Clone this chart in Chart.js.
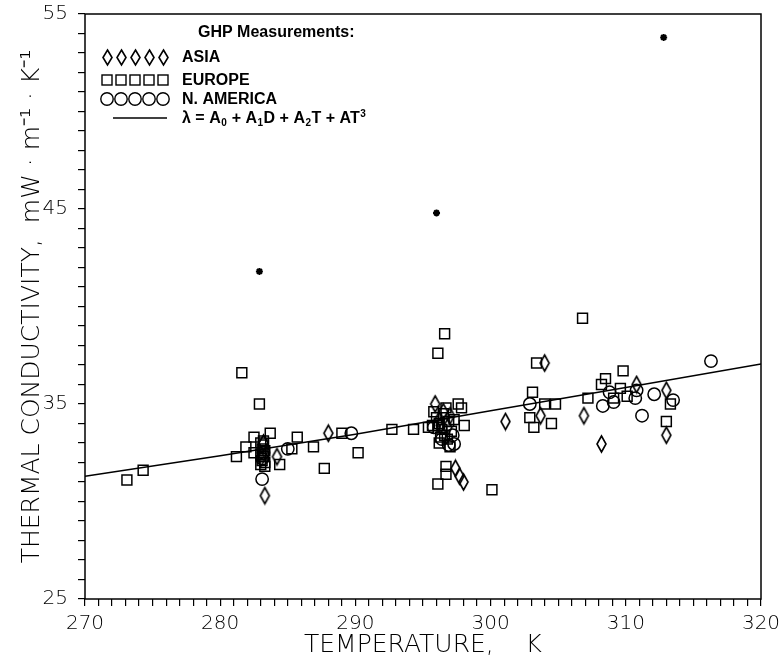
<!DOCTYPE html>
<html><head><meta charset="utf-8">
<script src="https://cdn.jsdelivr.net/npm/chart.js@4.4.0/dist/chart.umd.min.js"></script>
<style>html,body{margin:0;padding:0;background:#fff}</style>
</head><body>
<canvas id="c" width="780" height="661"></canvas>
<script>
// ---- data ----
const asiaT = [283.3,283.0,283.2,284.2,288.0,295.9,296.5,296.2,296.8,296.3,297.0,297.4,297.7,298.0,301.1,303.7,304.0,306.9,308.2,310.8,313.0,313.0];
const asiaK = [30.3,32.2,33.0,32.3,33.5,35.0,34.6,34.2,33.8,33.9,34.4,31.7,31.3,31.0,34.1,34.4,37.1,34.4,32.95,36.0,35.7,33.4];

const europeT = [273.1,274.3,281.2,281.6,281.9,282.5,282.5,282.9,283.7,283.0,283.2,283.1,283.3,283.0,283.2,283.1,283.3,283.0,283.2,283.3,284.4,285.3,285.7,286.9,287.7,289.0,290.2,292.7,294.3,295.4,295.8,296.0,296.2,296.4,296.6,296.8,296.1,296.5,296.9,297.1,296.3,295.7,296.7,297.3,296.2,297.0,296.1,296.6,297.6,297.85,298.05,296.7,296.7,296.1,300.1,302.9,303.1,303.2,303.4,304.0,304.5,304.8,306.8,307.2,308.2,308.5,309.1,309.6,309.8,310.1,313.0,313.3];
const europeK = [31.1,31.6,32.3,36.6,32.8,33.3,32.5,35.0,33.5,33.0,32.9,32.7,32.6,32.4,32.3,32.1,32.0,31.9,33.1,31.8,31.9,32.7,33.3,32.8,31.7,33.5,32.5,33.7,33.7,33.8,34.6,34.3,34.0,33.7,33.4,33.2,33.9,34.5,34.1,33.6,33.3,33.9,34.8,34.2,33.0,32.8,37.6,38.6,35.0,34.8,33.9,31.8,31.4,30.9,30.6,34.3,35.6,33.8,37.1,35.0,34.0,35.0,39.4,35.3,36.0,36.3,35.3,35.8,36.7,35.4,34.1,35.0];

const namericaT = [283.1,283.2,283.1,285.0,289.7,295.8,296.4,296.9,297.2,297.3,302.9,308.3,308.8,309.1,310.7,310.8,311.2,312.1,313.5,316.3];
const namericaK = [31.15,32.5,32.2,32.7,33.5,33.8,33.2,32.9,33.4,32.95,35.0,34.9,35.6,35.1,35.3,35.7,34.4,35.5,35.2,37.2];

const excludedT = [282.9,296.0,312.8];
const excludedK = [41.8,44.8,53.8];

const fitT = [270,280,290,300,310,320];
const fitK = [31.3,32.35,33.45,34.65,35.85,37.05];

const xTickLabels = [270,280,290,300,310,320];
const yTickLabels = [25,35,45,55];

const legendTitle = 'GHP Measurements:';
const legendLabels = ['ASIA','EUROPE','N. AMERICA','λ = A₀ + A₁D + A₂T + AT³'];
const xTitle = 'TEMPERATURE,    K';
const yTitle = 'THERMAL CONDUCTIVITY,  mW · m⁻¹ · K⁻¹';

// ---- helpers ----
function pts(xs, ys){ return xs.map((x,i)=>({x:x, y:ys[i]})); }
function makeDiamond(w, h, lw){
  const c = document.createElement('canvas');
  c.width = w + 4; c.height = h + 4;
  const g = c.getContext('2d');
  g.strokeStyle = '#000'; g.lineWidth = lw;
  const cx = c.width/2, cy = c.height/2;
  g.beginPath();
  g.moveTo(cx, cy - h/2); g.lineTo(cx + w/2, cy); g.lineTo(cx, cy + h/2); g.lineTo(cx - w/2, cy);
  g.closePath(); g.stroke();
  return c;
}
const diamondImg = makeDiamond(9, 16, 1.6);
const legendDiamond = makeDiamond(9, 15, 1.6);

const SUB = {'₀':'0','₁':'1','₂':'2','₃':'3'};
const SUP = {'³':'3','²':'2','¹':'1'};
function drawRich(ctx, text, x, y, size){
  const big = 'bold ' + size + 'px "Liberation Sans", Arial, sans-serif';
  const small = 'bold ' + Math.round(size*0.62) + 'px "Liberation Sans", Arial, sans-serif';
  let buf = '';
  const flush = () => { if (buf){ ctx.font = big; ctx.fillText(buf, x, y); x += ctx.measureText(buf).width; buf = ''; } };
  for (const ch of text){
    if (SUB[ch] || SUP[ch]){
      flush();
      ctx.font = small;
      const s = SUB[ch] || SUP[ch];
      ctx.fillText(s, x + 0.5, SUB[ch] ? y + 4 : y - 5);
      x += ctx.measureText(s).width + 1;
    } else buf += ch;
  }
  flush();
}

const framePlugin = {
  id: 'frame',
  afterDatasetsDraw(chart){
    const {ctx, chartArea:a} = chart;
    ctx.save();
    ctx.strokeStyle = '#000'; ctx.lineWidth = 1.5;
    ctx.strokeRect(a.left, a.top, a.right - a.left, a.bottom - a.top);
    ctx.restore();
  }
};

const legendPlugin = {
  id: 'innerLegend',
  afterDraw(chart){
    const ctx = chart.ctx;
    ctx.save();
    ctx.fillStyle = '#000'; ctx.strokeStyle = '#000';
    ctx.textBaseline = 'middle'; ctx.textAlign = 'left';
    ctx.font = 'bold 16px "Liberation Sans", Arial, sans-serif';
    ctx.fillText(legendTitle, 198, 33);
    const rows = [57, 80, 99, 118];
    const x0 = 107, dx = 14, tx = 182;
    for (let i = 0; i < 5; i++){
      const cx = x0 + i*dx;
      ctx.drawImage(legendDiamond, Math.round(cx - legendDiamond.width/2), Math.round(rows[0] - legendDiamond.height/2));
      ctx.lineWidth = 1.4;
      ctx.strokeRect(cx - 5, rows[1] - 5, 10, 10);
      ctx.beginPath(); ctx.arc(cx, rows[2], 6.2, 0, Math.PI*2); ctx.stroke();
    }
    ctx.lineWidth = 1.5;
    ctx.beginPath(); ctx.moveTo(113, rows[3]); ctx.lineTo(167, rows[3]); ctx.stroke();
    legendLabels.forEach((t, i) => drawRich(ctx, t, tx, rows[i] + 1, 16));
    ctx.restore();
  }
};

const tickFont = {family: '"DejaVu Sans", sans-serif', size: 20, weight: 200};
const titleFont = {family: '"DejaVu Sans", sans-serif', size: 25, weight: 200};

new Chart(document.getElementById('c'), {
  type: 'scatter',
  data: {
    datasets: [
      {label: 'fit', data: pts(fitT, fitK), showLine: true, pointRadius: 0, borderColor: '#000', borderWidth: 1.5, order: 5},
      {label: 'ASIA', data: pts(asiaT, asiaK), pointStyle: diamondImg, pointRadius: 7, borderColor: '#000', backgroundColor: 'rgba(0,0,0,0)'},
      {label: 'EUROPE', data: pts(europeT, europeK), pointStyle: 'rect', pointRadius: 7, borderWidth: 1.5, borderColor: '#000', backgroundColor: 'rgba(0,0,0,0)'},
      {label: 'N. AMERICA', data: pts(namericaT, namericaK), pointStyle: 'circle', pointRadius: 6.2, borderWidth: 1.5, borderColor: '#000', backgroundColor: 'rgba(0,0,0,0)'},
      {label: 'excluded', data: pts(excludedT, excludedK), pointStyle: 'star', pointRadius: 3.5, borderWidth: 2, borderColor: '#000', backgroundColor: '#000'}
    ]
  },
  options: {
    responsive: false,
    animation: false,
    events: [],
    layout: {padding: {left: 0, right: 19, top: 14, bottom: 0}},
    plugins: {legend: {display: false}, tooltip: {enabled: false}},
    scales: {
      x: {
        type: 'linear', min: 270, max: 320,
        border: {display: false},
        grid: {drawOnChartArea: false, drawTicks: true, tickLength: 7, color: '#000', lineWidth: 1.2},
        ticks: {stepSize: 1, autoSkip: false, maxRotation: 0, color: '#000', font: tickFont, padding: 6,
          callback: v => xTickLabels.includes(v) ? String(v) : ''},
        title: {display: true, text: xTitle, color: '#000', font: titleFont, padding: {top: 0, bottom: 1}},
        afterFit: s => { s.height = 62; s.paddingLeft = 0; s.paddingRight = 0; }
      },
      y: {
        type: 'linear', min: 25, max: 55,
        border: {display: false},
        grid: {drawOnChartArea: false, drawTicks: true, tickLength: 7, color: '#000', lineWidth: 1.2},
        ticks: {stepSize: 1, autoSkip: false, color: '#000', font: tickFont, padding: 10,
          callback: v => yTickLabels.includes(v) ? String(v) : ''},
        title: {display: true, text: yTitle, color: '#000', font: titleFont, padding: {top: 17, bottom: 0}},
        afterFit: s => { s.width = 85; s.paddingTop = 0; s.paddingBottom = 0; }
      }
    }
  },
  plugins: [framePlugin, legendPlugin]
});
</script>
</body></html>
